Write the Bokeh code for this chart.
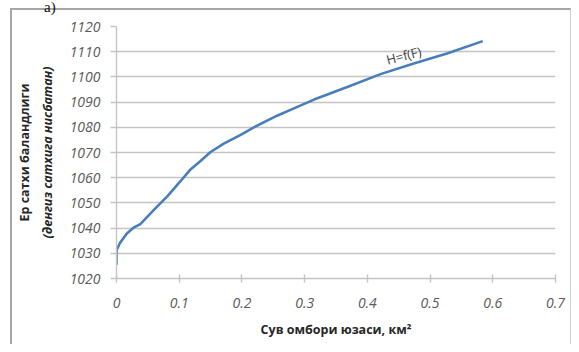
from bokeh.plotting import figure
from bokeh.models import Range1d, FixedTicker, Label, LinearAxis, Div
from bokeh.layouts import column
from bokeh.embed import file_html
from bokeh.resources import INLINE

# Data: reservoir surface area F (km^2) vs level H (m)
area_km2 = [0, 0, 0.006, 0.017, 0.028, 0.038, 0.060, 0.081, 0.102, 0.118, 0.134,
            0.150, 0.171, 0.198, 0.219, 0.256, 0.293, 0.315, 0.368, 0.421, 0.474,
            0.527, 0.584]
level_m = [1025.5, 1031.2, 1034.3, 1038.0, 1040.3, 1041.6, 1047.3, 1052.6, 1058.6,
           1063.3, 1066.6, 1070.2, 1073.5, 1077.0, 1080.0, 1084.6, 1088.6, 1091.0,
           1096.0, 1101.1, 1105.3, 1109.3, 1114.2]

x_ticks = [0, 0.1, 0.2, 0.3, 0.4, 0.5, 0.6, 0.7]
x_tick_labels = ["0", "0.1", "0.2", "0.3", "0.4", "0.5", "0.6", "0.7"]
y_ticks = [1020, 1030, 1040, 1050, 1060, 1070, 1080, 1090, 1100, 1110, 1120]
y_tick_labels = [str(t) for t in y_ticks]

panel_label = "a)"
series_label = "H=f(F)"
x_title = "Сув омбори юзаси, км²"
y_title_1 = "Ер сатхи баландлиги"
y_title_2 = "(денгиз сатхига нисбатан)"

head = Div(text=('<div style="position:relative; z-index:10; left:44px; top:0px; '
                 'font-family:\'Liberation Serif\'; font-size:15px; line-height:12px; '
                 'color:#111;">' + panel_label + '</div>'),
           width=200, height=8, margin=0, styles={"overflow": "visible", "z-index": "10"})

W, H = 561, 336
p = figure(width=W, height=H, output_backend="svg", toolbar_location=None,
           x_range=Range1d(0, 0.7), y_range=Range1d(1020, 1120),
           min_border_left=104, min_border_right=18, min_border_top=16,
           min_border_bottom=68, margin=0)
p.styles = {"margin-left": "10px",
            "border-left": "2px solid #a6a6a6", "border-top": "2px solid #a6a6a6",
            "border-right": "1px solid #d0d0d0", "border-bottom": "none"}
p.outline_line_color = None
p.background_fill_color = "white"
p.border_fill_color = "white"

grid_c = "#c4c4c4"
p.xgrid.visible = False
p.ygrid.grid_line_color = grid_c
p.ygrid.grid_line_width = 1.6
p.ygrid.ticker = FixedTicker(ticks=y_ticks)

font = "Open Sans"
p.xaxis.ticker = FixedTicker(ticks=x_ticks)
p.xaxis.major_label_overrides = {t: l for t, l in zip(x_ticks, x_tick_labels)}
p.yaxis.ticker = FixedTicker(ticks=y_ticks)
p.yaxis.major_label_overrides = {t: l for t, l in zip(y_ticks, y_tick_labels)}
for ax in (p.xaxis[0], p.yaxis[0]):
    ax.axis_line_color = grid_c
    ax.axis_line_width = 1.4
    ax.major_tick_line_color = grid_c
    ax.major_tick_line_width = 1.4
    ax.minor_tick_line_color = None
    ax.major_label_text_font = font
    ax.major_label_text_font_style = "italic"
    ax.major_label_text_font_size = "14px"
    ax.major_label_text_color = "#595959"
p.xaxis.major_tick_in = 4
p.xaxis.major_tick_out = 4
p.xaxis.major_label_standoff = 15
p.yaxis.major_tick_in = 0
p.yaxis.major_tick_out = 6
p.yaxis.major_label_standoff = 10

p.xaxis.axis_label = x_title
p.xaxis.axis_label_text_font = font
p.xaxis.axis_label_text_font_style = "bold"
p.xaxis.axis_label_text_font_size = "12.5px"
p.xaxis.axis_label_text_color = "#262626"
p.xaxis.axis_label_standoff = 10

p.yaxis.axis_label = y_title_2
p.yaxis.axis_label_text_font = font
p.yaxis.axis_label_text_font_style = "bold italic"
p.yaxis.axis_label_text_font_size = "12.5px"
p.yaxis.axis_label_text_color = "#262626"
p.yaxis.axis_label_standoff = 11

outer = LinearAxis(axis_label=y_title_1, ticker=FixedTicker(ticks=[]),
                   axis_line_color=None, major_tick_line_color=None,
                   minor_tick_line_color=None, major_label_text_font_size="0px",
                   major_tick_out=0, major_tick_in=0, major_label_standoff=0,
                   axis_label_standoff=3, axis_label_text_font=font,
                   axis_label_text_font_style="bold", axis_label_text_font_size="12.5px",
                   axis_label_text_color="#262626")
p.add_layout(outer, "left")

p.line(area_km2, level_m, line_color="#4a7ebb", line_width=2.6)

p.add_layout(Label(x=0.458, y=1108.5, text=series_label, angle=0.25,
                   text_align="center", text_baseline="middle",
                   text_font=font, text_font_size="13px", text_color="#404040"))

layout = column(head, p, spacing=0)
open("out.html", "w").write(file_html(layout, INLINE))
